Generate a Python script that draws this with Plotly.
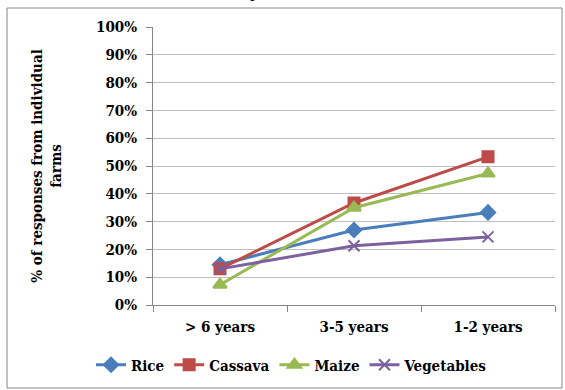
import plotly.graph_objects as go

categories = ["> 6 years", "3-5 years", "1-2 years"]
rice = [0.145, 0.27, 0.333]
cassava = [0.13, 0.367, 0.533]
maize = [0.073, 0.35, 0.473]
vegetables = [0.13, 0.213, 0.245]

y_ticks = [i / 10 for i in range(11)]
y_labels = [f"{i * 10}%" for i in range(11)]

series = [
    ("Rice", rice, "#4A7EBB", "diamond", 11),
    ("Cassava", cassava, "#BE4B48", "square", 11),
    ("Maize", maize, "#98B954", "triangle-up", 12),
    ("Vegetables", vegetables, "#7D60A0", "x-thin-open", 11),
]

FONT = "DejaVu Serif Condensed, DejaVu Serif"

fig = go.Figure()
for name, vals, color, symbol, size in series:
    fig.add_trace(go.Scatter(
        x=categories, y=vals, name=f"<b>{name}</b>", mode="lines+markers",
        line=dict(color=color, width=3),
        marker=dict(symbol=symbol, size=size, color=color,
                    line=dict(color=color, width=2)),
    ))

W, H = 565, 390
L, R, T, B = 153, 10, 27, 85
pw, ph = W - L - R, H - T - B

def px_x(x):
    return (x - L) / pw

def px_y(y):
    return (H - B - y) / ph

# outer chart frame
fig.add_shape(type="rect", xref="paper", yref="paper",
              x0=px_x(7), x1=px_x(562), y0=px_y(388), y1=px_y(8),
              line=dict(color="#868686", width=1), layer="below")

fig.add_annotation(text="<b>money lenders</b>", xref="paper", yref="paper",
                   x=px_x(267), y=px_y(4), xanchor="center", yanchor="bottom",
                   showarrow=False, font=dict(family=FONT, size=20, color="black"))

fig.update_layout(
    width=W, height=H,
    margin=dict(l=L, r=R, t=T, b=B, autoexpand=False),
    paper_bgcolor="white", plot_bgcolor="white",
    font=dict(family=FONT, size=15, color="black"),
    showlegend=True,
    legend=dict(orientation="h", x=px_x(292), y=px_y(365), xanchor="center",
                yanchor="middle", font=dict(family=FONT, size=15, color="black"),
                itemwidth=30, tracegroupgap=0),
)
fig.update_xaxes(
    type="category", range=[-0.5, 2.5], showgrid=False,
    showline=True, linecolor="#868686", linewidth=1,
    ticks="outside", tickson="boundaries", ticklen=6, tickcolor="#868686",
    tickvals=categories, ticktext=[f"<b>{c}</b>" for c in categories],
    tickfont=dict(family=FONT, size=15, color="black"),
    ticklabelstandoff=8,
)
fig.update_yaxes(
    range=[0, 1], tickvals=y_ticks, ticktext=[f"<b>{t}</b>" for t in y_labels],
    showgrid=True, gridcolor="#BFBFBF", gridwidth=1,
    showline=True, linecolor="#868686", linewidth=1,
    ticks="outside", ticklen=6, tickcolor="#868686",
    tickfont=dict(family=FONT, size=15, color="black"),
    ticklabelstandoff=6,
    zeroline=False,
    title=dict(text="<b>% of responses from individual<br>farms</b>",
               font=dict(family=FONT, size=15, color="black"), standoff=30),
)

fig.write_html("out.html")
